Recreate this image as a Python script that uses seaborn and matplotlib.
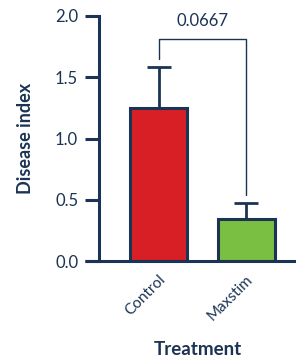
import numpy as np
import pandas as pd
import matplotlib
matplotlib.use("Agg")
import matplotlib.pyplot as plt
import seaborn as sns

# data
treatments = ["Control", "Maxstim"]
means = [1.25, 0.34]
errors = [0.33, 0.13]
p_label = "0.0667"

navy = "#1b3354"
bar_colors = ["#d91f26", "#7abf42"]

sns.set_style("ticks")
plt.rcParams["font.family"] = ["Lato", "DejaVu Sans"]

df = pd.DataFrame({"Treatment": treatments, "Disease index": means})

fig = plt.figure(figsize=(2.96, 3.62), dpi=100)
ax = fig.add_axes([99 / 296, 101 / 362, 1 - 99 / 296, 245 / 362])

sns.barplot(data=df, x="Treatment", y="Disease index", hue="Treatment",
            palette=bar_colors, saturation=1, width=0.65, edgecolor=navy,
            linewidth=2.2, legend=False, ax=ax, errorbar=None)

# upward-only error bars
ax.errorbar(range(len(treatments)), means, yerr=[np.zeros(len(errors)), errors],
            fmt="none", ecolor=navy, elinewidth=2.0, capsize=8.5, capthick=2.0,
            zorder=1)

# significance bracket
top = 1.81
ax.plot([0, 0, 1, 1], [1.65, top, top, 0.54], color=navy, lw=1.0, clip_on=False)
ax.text(0.5, 1.96, p_label, ha="center", va="center", fontsize=12, color=navy)

ax.set_ylim(0, 2.0)
ax.set_xlim(-0.68, 1.57)
ax.set_yticks([0.0, 0.5, 1.0, 1.5, 2.0])
ax.set_yticklabels(["0.0", "0.5", "1.0", "1.5", "2.0"])

sns.despine(ax=ax)
for s in ["left", "bottom"]:
    ax.spines[s].set_color(navy)
    ax.spines[s].set_linewidth(2.2)
ax.spines["bottom"].set_bounds(-0.84, 1.57)
ax.spines["bottom"].set_capstyle("butt")

ax.tick_params(axis="y", length=10, width=2.2, color=navy, labelcolor=navy,
               labelsize=12, pad=5)
ax.tick_params(axis="x", length=0, labelcolor=navy, labelsize=11, pad=8)
plt.setp(ax.get_xticklabels(), rotation=45, ha="right", rotation_mode="anchor")

ax.set_xlabel("Treatment", fontsize=13.5, fontweight="bold", color=navy, labelpad=13)
ax.set_ylabel("Disease index", fontsize=13, fontweight="bold", color=navy, labelpad=15)

fig.savefig("out.png", dpi=100)
